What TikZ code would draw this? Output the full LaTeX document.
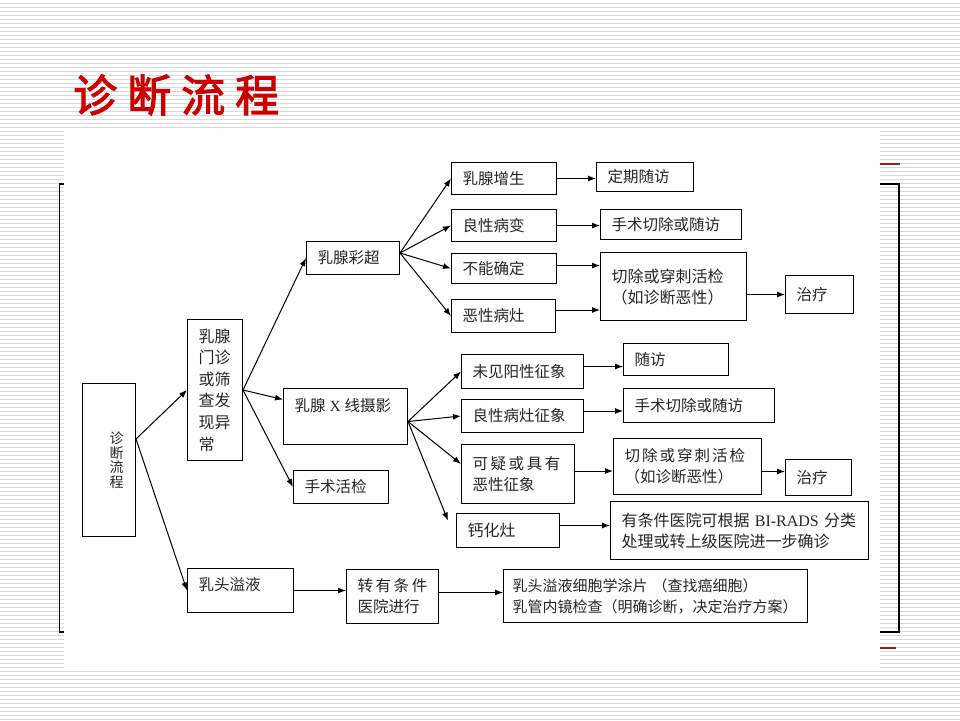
\documentclass[tikz,border=0pt]{standalone}
\usepackage{fontspec}
\usepackage{tikz}
\usetikzlibrary{arrows.meta}
\newfontfamily\cjk{Noto Sans CJK SC}
\newfontfamily\titlefont[FakeBold=2.5]{Noto Sans CJK SC}
\newfontfamily\lserif{Liberation Serif}
\definecolor{titlered}{RGB}{204,0,0}
\definecolor{linered}{RGB}{150,30,30}

\begin{document}
\begin{tikzpicture}[x=1pt, y=-1pt, >={Latex[length=8pt,width=6pt]},
  box/.style={draw, line width=1pt, anchor=north west, align=left, inner xsep=11pt, inner ysep=0pt,
    text=black!85, font=\cjk\fontsize{15.5pt}{21pt}\selectfont},
  big/.style={font=\cjk\fontsize{16pt}{21pt}\selectfont},
  link/.style={->, line width=1pt}]
\useasboundingbox (0,0) rectangle (960,720);
\fill[white] (0,0) rectangle (960,720);
\foreach \i in {0,...,179}
  \draw[black!15, line width=1pt] (0,{\i*4+3.5}) -- (960,{\i*4+3.5});
\draw[line width=1.5pt] (59.5,184) rectangle (899,632);
\draw[linered, line width=1.5pt] (860,164) -- (900,164);
\draw[linered, line width=1.5pt] (860,648) -- (896,648);
\fill[white] (64,128.5) rectangle (880,668);

\node[text=titlered, anchor=west, inner sep=0pt, font=\titlefont\fontsize{44pt}{44pt}\selectfont] (title) at (73,95) {诊\hspace{10pt}断\hspace{10pt}流\hspace{10pt}程};

\node[box, align=right, inner xsep=12pt, text width=29pt, minimum height=153pt, font=\cjk\fontsize{14pt}{14.5pt}\selectfont] (zhenduan) at (82,383) {诊\\断\\流\\程};
\node[box, text width=33pt, minimum height=141pt, font=\cjk\fontsize{16pt}{21.6pt}\selectfont] (menzhen) at (187,319) {乳腺\\门诊\\或筛\\查发\\现异\\常};
\node[box, text width=71pt, minimum height=33pt] (caichao) at (306,241) {乳腺彩超};
\node[box, text width=102pt, minimum height=56pt, text depth=24pt] (xxian) at (283,388) {乳腺\hspace{4pt}{\lserif X}\hspace{4pt}线摄影};
\node[box, text width=73pt, minimum height=33pt] (huojian) at (293,470) {手术活检};
\node[box, text width=84pt, minimum height=44pt, text depth=14pt] (yiye) at (187,568) {乳头溢液};

\node[box, text width=83pt, minimum height=32pt] (zengsheng) at (451,162) {乳腺增生};
\node[box, text width=83pt, minimum height=32pt] (liangxing) at (451,209) {良性病变};
\node[box, text width=83pt, minimum height=30pt] (buneng) at (451,253) {不能确定};
\node[box, text width=82pt, minimum height=33pt] (exing) at (451,299) {恶性病灶};
\node[box, text width=75pt, minimum height=29pt] (suifang1) at (596,162) {定期随访};
\node[box, text width=119pt, minimum height=30pt] (shoushu1) at (600,209) {手术切除或随访};
\node[box, big, text width=124pt, minimum height=68pt] (qiechu1) at (600,252) {切除或穿刺活检\\（如诊断恶性）};
\node[box, text width=46pt, minimum height=38pt] (zhiliao1) at (785,275) {治疗};

\node[box, text width=100pt, minimum height=34pt] (weijian) at (461,354) {未见阳性征象};
\node[box, text width=100pt, minimum height=33pt] (bingzao) at (461,399) {良性病灶征象};
\node[box, text width=91pt, minimum height=59pt] (keyi) at (461,444) {可\,疑\,或\,具\,有\\恶性征象};
\node[box, big, text width=81pt, minimum height=34pt] (gaihua) at (456,513) {钙化灶};
\node[box, text width=83pt, minimum height=32pt] (suifang2) at (623,343) {随访};
\node[box, text width=129pt, minimum height=34pt] (shoushu2) at (623,388) {手术切除或随访};
\node[box, text width=126pt, minimum height=56pt] (qiechu2) at (613,438) {切\hspace{2pt}除\hspace{2pt}或\hspace{2pt}穿\hspace{2pt}刺\hspace{2pt}活\hspace{2pt}检\\（如诊断恶性）};
\node[box, text width=44pt, minimum height=36pt] (zhiliao2) at (785,459) {治疗};
\node[box, big, text width=236pt, minimum height=58pt] (birads) at (610,501) {有条件医院可根据 {\lserif BI-RADS} 分类\\处理或转上级医院进一步确诊};

\node[box, text width=70pt, minimum height=54pt] (zhuan) at (346,569) {转\,有\,条\,件\\医院进行};
\node[box, inner xsep=9pt, text width=286pt, minimum height=53pt, font=\cjk\fontsize{15pt}{21pt}\selectfont] (xibao) at (503,569) {乳头溢液细胞学涂片 （查找癌细胞）\\乳管内镜检查（明确诊断，决定治疗方案）};

\draw[link] ([yshift=21pt]zhenduan.east) -- (menzhen.west);
\draw[link] ([yshift=21pt]zhenduan.east) -- (yiye.west);
\draw[link] (menzhen.east) -- (caichao.west);
\draw[link] (menzhen.east) -- ([yshift=17pt]xxian.west);
\draw[link] (menzhen.east) -- (huojian.west);

\draw[link] ([yshift=5pt]caichao.east) -- (zengsheng.west);
\draw[link] ([yshift=5pt]caichao.east) -- (liangxing.west);
\draw[link] ([yshift=5pt]caichao.east) -- (buneng.west);
\draw[link] ([yshift=5pt]caichao.east) -- (exing.west);
\draw[link] (zengsheng.east) -- (zengsheng.east -| suifang1.west);
\draw[link] (liangxing.east) -- (liangxing.east -| shoushu1.west);
\draw[link] ([yshift=3pt]buneng.east) -- ([yshift=3pt]buneng.east -| qiechu1.west);
\draw[link] ([yshift=6pt]exing.east) -- ([yshift=6pt]exing.east -| qiechu1.west);
\draw[link] (qiechu1.east |- zhiliao1.west) -- (zhiliao1.west);

\draw[link] ([yshift=-5pt]xxian.east) -- (weijian.west);
\draw[link] ([yshift=-5pt]xxian.east) -- (bingzao.west);
\draw[link] ([yshift=-5pt]xxian.east) -- ([yshift=10pt]keyi.west);
\draw[link] ([yshift=-5pt]xxian.east) -- ([shift={(-8pt,10pt)}]gaihua.west);
\draw[link] ([yshift=5pt]weijian.east) -- ([yshift=5pt]weijian.east -| suifang2.west);
\draw[link] ([yshift=5pt]bingzao.east) -- ([yshift=5pt]bingzao.east -| shoushu2.west);
\draw[link] ([yshift=3pt]keyi.east) -- ([yshift=3pt]keyi.east -| qiechu2.west);
\draw[link] ([yshift=-5pt]qiechu2.east) -- ([yshift=-5pt]qiechu2.east -| zhiliao2.west);
\draw[link] ([yshift=5pt]gaihua.east) -- ([yshift=5pt]gaihua.east -| birads.west);

\draw[link] (yiye.east) -- (yiye.east -| zhuan.west);
\draw[link] ([yshift=4pt]zhuan.east) -- ([yshift=4pt]zhuan.east -| xibao.west);
\end{tikzpicture}
\end{document}
